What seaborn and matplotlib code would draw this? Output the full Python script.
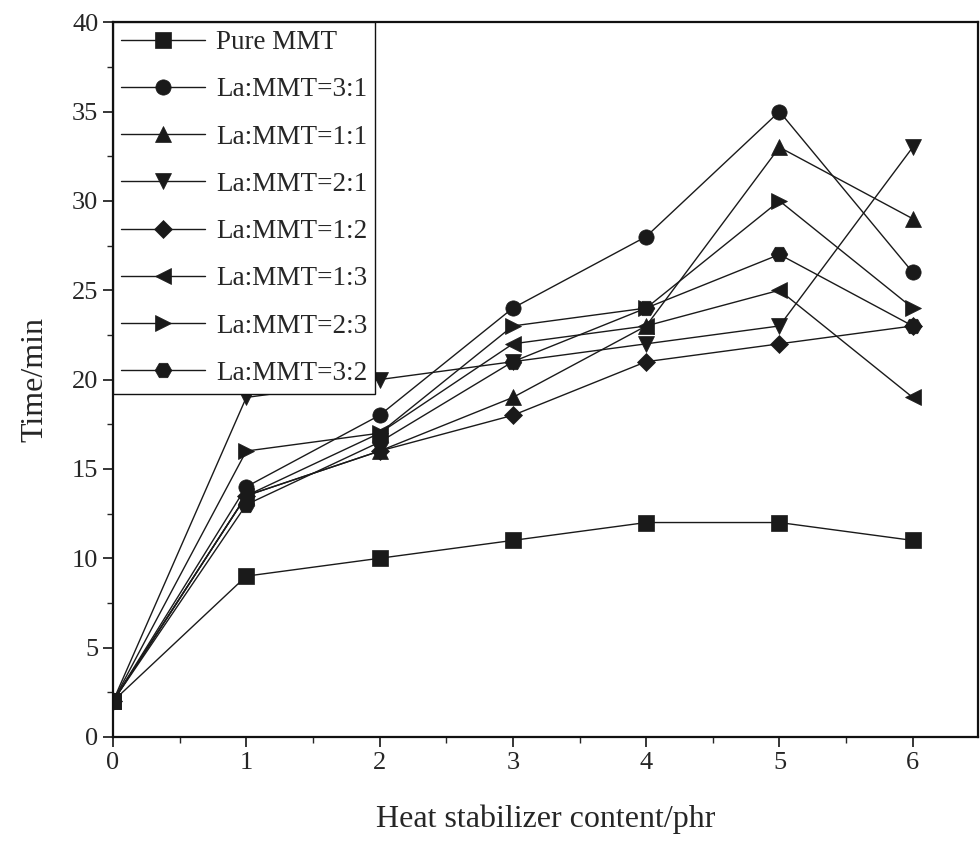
import numpy as np
import pandas as pd
import matplotlib
matplotlib.use("Agg")
import matplotlib.pyplot as plt
import seaborn as sns

sns.set_style("ticks")
plt.rcParams['font.family'] = ['Liberation Serif', 'DejaVu Serif']

content = [0, 1, 2, 3, 4, 5, 6]
series_names = ["Pure MMT", "La:MMT=3:1", "La:MMT=1:1", "La:MMT=2:1",
                "La:MMT=1:2", "La:MMT=1:3", "La:MMT=2:3", "La:MMT=3:2"]
pure_mmt = [2, 9, 10, 11, 12, 12, 11]
la_3_1 = [2, 14, 18, 24, 28, 35, 26]
la_1_1 = [2, 13.5, 16, 19, 23, 33, 29]
la_2_1 = [2, 19, 20, 21, 22, 23, 33]
la_1_2 = [2, 13.5, 16, 18, 21, 22, 23]
la_1_3 = [2, 13.5, 17, 22, 23, 25, 19]
la_2_3 = [2, 16, 17, 23, 24, 30, 24]
la_3_2 = [2, 13, 16.5, 21, 24, 27, 23]
series_values = [pure_mmt, la_3_1, la_1_1, la_2_1, la_1_2, la_1_3, la_2_3, la_3_2]
marker_list = ['s', 'o', '^', 'v', 'D', '<', '>', 'H']
x_ticks = [0, 1, 2, 3, 4, 5, 6]
y_ticks = [0, 5, 10, 15, 20, 25, 30, 35, 40]

rows = []
for name, vals in zip(series_names, series_values):
    for xv, yv in zip(content, vals):
        rows.append({"x": xv, "y": yv, "series": name})
df = pd.DataFrame(rows)

fig = plt.figure(figsize=(9.8, 8.52), dpi=100)
ax = fig.add_axes([0.1153, 0.135, 0.998 - 0.1153, 0.974 - 0.135])

sns.lineplot(data=df, x="x", y="y", hue="series", style="series",
             hue_order=series_names, style_order=series_names,
             palette=['#1a1a1a'] * len(series_names),
             markers=dict(zip(series_names, marker_list)), dashes=False,
             markersize=11, linewidth=1.0, markeredgewidth=0.5,
             markeredgecolor='#1a1a1a', ax=ax)

# adjust individual marker sizes (diamond smaller, hexagon like circle)
for line in ax.lines:
    if line.get_marker() == 'D':
        line.set_markersize(9)
    elif line.get_marker() == 'H':
        line.set_markersize(12)

ax.set_xlim(0, 6.49)
ax.set_ylim(0, 40)
ax.set_xticks(x_ticks)
ax.set_yticks(y_ticks)
ax.set_xticks(np.arange(0.5, 6.5, 1.0), minor=True)
ax.set_yticks(np.arange(2.5, 40, 5.0), minor=True)
ax.tick_params(axis='both', which='major', direction='out', length=7, width=1.3, labelsize=19)
ax.tick_params(axis='both', which='minor', direction='out', length=4, width=1.0)
for s in ax.spines.values():
    s.set_visible(True)
    s.set_linewidth(1.6)
    s.set_color('#111111')

ax.set_xlabel("Heat stabilizer content/phr", fontsize=23, labelpad=22)
ax.set_ylabel("Time/min", fontsize=23, labelpad=16)

handles, labels = ax.get_legend_handles_labels()
for h in handles:
    if h.get_marker() == 'D':
        h.set_markersize(9)
    elif h.get_marker() == 'H':
        h.set_markersize(12)
leg = ax.legend(handles, labels, loc='upper left', bbox_to_anchor=(0, 1),
                borderaxespad=0, fontsize=19.5, handlelength=3.1, handletextpad=0.4,
                labelspacing=0.82, fancybox=False, frameon=True, borderpad=0.3)
leg.get_frame().set_edgecolor('#111111')
leg.get_frame().set_linewidth(1.0)
leg.get_frame().set_alpha(1.0)

fig.savefig("out.png", dpi=100)
